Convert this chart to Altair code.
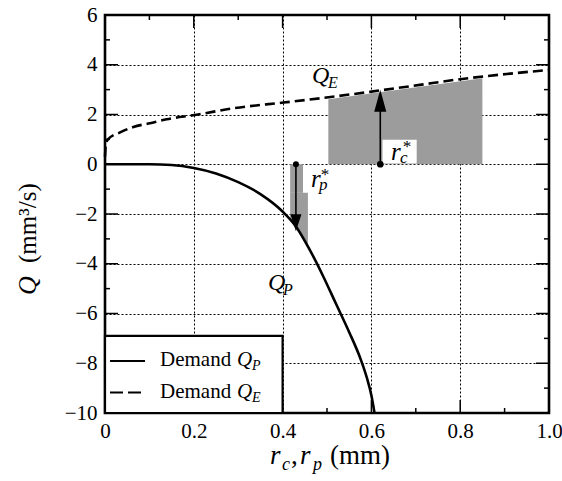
import altair as alt
import pandas as pd

# ---- data ----
qe_x = [0.0, 0.002, 0.007, 0.034, 0.064, 0.101, 0.139, 0.203, 0.289, 0.402, 0.484, 0.6, 0.709, 0.8, 0.905, 1.0]
qe_y = [0.3, 0.8, 1.01, 1.28, 1.5, 1.65, 1.81, 1.98, 2.25, 2.48, 2.65, 2.92, 3.19, 3.42, 3.63, 3.79]

qp_x = [0.0, 0.1, 0.15, 0.2, 0.25, 0.3, 0.35, 0.4, 0.43, 0.46, 0.49, 0.52, 0.55, 0.575, 0.59, 0.6, 0.607]
qp_y = [0.0, 0.0, -0.03, -0.15, -0.37, -0.72, -1.2, -1.9, -2.5, -3.4, -4.45, -5.6, -6.75, -7.8, -8.6, -9.3, -10.0]

rc_shade_x = [0.503, 0.85]
rc_shade_top = [2.61, 3.46]
rc_gap_x = [0.625, 0.702]
rc_gap_top = 0.98

rp_upper_x = [0.417, 0.446]
rp_upper_y = [0.0, -1.15]
rp_lower_x = [0.417, 0.432, 0.446, 0.457]
rp_lower_bottom = [-2.2, -2.55, -3.0, -3.35]

rc_arrow = {"x": 0.62, "tip": 2.98, "head": 2.55}
rp_arrow = {"x": 0.43, "tip": -2.7, "head": -2.35}

qe_label_xy = (0.466, 3.27)
qp_label_xy = (0.367, -5.04)
rc_label_xy = (0.644, 0.18)
rp_label_xy = (0.464, -0.91)

x_major = [0.2, 0.4, 0.6, 0.8]
x_minor = [0.1, 0.3, 0.5, 0.7, 0.9]
y_major = [-8, -6, -4, -2, 0, 2, 4]
y_minor = [-9, -7, -5, -3, -1, 1, 3, 5]
x_ticks = [0, 0.2, 0.4, 0.6, 0.8, 1.0]
y_ticks = [-10, -8, -6, -4, -2, 0, 2, 4, 6]

legend_labels = ["Demand", "Demand"]
legend_subs = ["P", "E"]

W, H = 444, 398
FONT = "Liberation Serif, Times New Roman, serif"
GRAY = "#9c9c9c"

xs = alt.Scale(domain=[0, 1], nice=False, zero=False)
ys = alt.Scale(domain=[-10, 6], nice=False, zero=False)

xaxis = alt.Axis(values=x_ticks, grid=True, gridDash=[2, 2], gridColor="black", gridWidth=1,
                 gridOpacity=1, ticks=False, tickSize=0, domain=False, labelFont=FONT,
                 labelFontSize=21, labelColor="black", labelPadding=7, labelFlush=False,
                 labelOverlap=False, labelBound=False, title=None,
                 labelExpr="datum.value == 0 ? '0' : format(datum.value, '.1f')")
yaxis = alt.Axis(values=y_ticks, grid=True, gridDash=[2, 2], gridColor="black", gridWidth=1,
                 gridOpacity=1, ticks=False, tickSize=0, domain=False, labelFont=FONT,
                 labelFontSize=21, labelColor="black", labelPadding=8, labelFlush=False,
                 labelOverlap=False, format="d", title=None)

df_qe = pd.DataFrame({"x": qe_x, "y": qe_y})
df_qp = pd.DataFrame({"x": qp_x, "y": qp_y})

base_x = alt.X("x:Q", scale=xs, axis=xaxis)
base_y = alt.Y("y:Q", scale=ys, axis=yaxis)

# shaded regions
rc_shade = alt.Chart(pd.DataFrame({"x": rc_shade_x, "y": rc_shade_top, "y2": [0, 0]})).mark_area(
    color=GRAY, opacity=1).encode(x=base_x, y=base_y, y2="y2:Q")
rc_gap = alt.Chart(pd.DataFrame({"x": [rc_gap_x[0]], "x2": [rc_gap_x[1]], "y": [rc_gap_top], "y2": [0.03]})).mark_rect(
    color="white").encode(x=alt.X("x:Q", scale=xs), x2="x2:Q", y=alt.Y("y:Q", scale=ys), y2="y2:Q")
rp_up = alt.Chart(pd.DataFrame({"x": [rp_upper_x[0]], "x2": [rp_upper_x[1]], "y": [rp_upper_y[0]], "y2": [rp_upper_y[1]]})).mark_rect(
    color=GRAY).encode(x=alt.X("x:Q", scale=xs), x2="x2:Q", y=alt.Y("y:Q", scale=ys), y2="y2:Q")
rp_low = alt.Chart(pd.DataFrame({"x": rp_lower_x, "y": rp_lower_bottom,
                                 "y2": [rp_upper_y[1]] * len(rp_lower_x)})).mark_area(
    color=GRAY, opacity=1).encode(x=alt.X("x:Q", scale=xs), y=alt.Y("y:Q", scale=ys), y2="y2:Q")

# curves
line_qe = alt.Chart(df_qe).mark_line(color="black", strokeWidth=2.6, strokeDash=[10, 5],
                                     interpolate="monotone").encode(x=base_x, y=base_y)
line_qp = alt.Chart(df_qp).mark_line(color="black", strokeWidth=2.6,
                                     interpolate="monotone").encode(x=base_x, y=base_y)


def arrow(a, up):
    d = pd.DataFrame({"x": [a["x"]], "y0": [0.0], "tip": [a["tip"]], "head": [a["head"]]})
    shaft = alt.Chart(d).mark_rule(color="black", strokeWidth=1.6).encode(
        x=alt.X("x:Q", scale=xs), y=alt.Y("y0:Q", scale=ys), y2="head:Q")
    path = "M0,-1L0.55,1L-0.55,1Z" if up else "M0,1L0.65,-1L-0.65,-1Z"
    size = 484 if up else 289
    head = alt.Chart(d).mark_point(shape=path, filled=True, color="black", opacity=1, size=size,
                                   strokeWidth=0).encode(
        x=alt.X("x:Q", scale=xs), y=alt.Y("head:Q", scale=ys))
    dot = alt.Chart(d).mark_point(shape="circle", filled=True, color="black", opacity=1,
                                  size=45 if up else 36).encode(
        x=alt.X("x:Q", scale=xs), y=alt.Y("y0:Q", scale=ys))
    return [shaft, head, dot]


def dtext(s, xy, size, italic=True, dx=0, dy=0):
    return alt.Chart(alt.Data(values=[{"a": 1}])).mark_text(
        text=s, font=FONT, fontSize=size, fontStyle="italic" if italic else "normal",
        align="left", baseline="alphabetic", dx=dx, dy=dy, color="black").encode(
        x=alt.datum(xy[0], scale=xs), y=alt.datum(xy[1], scale=ys))


def ptext(s, px, py, size, italic=False, angle=0):
    return alt.Chart(alt.Data(values=[{"a": 1}])).mark_text(
        text=s, font=FONT, fontSize=size, fontStyle="italic" if italic else "normal",
        align="left", baseline="alphabetic", angle=angle, color="black").encode(
        x=alt.value(px), y=alt.value(py))


labels = [
    dtext("Q", qe_label_xy, 24), dtext("E", qe_label_xy, 16, dx=16, dy=5),
    dtext("Q", qp_label_xy, 24), dtext("P", qp_label_xy, 16, dx=15, dy=5),
    dtext("r", rc_label_xy, 25), dtext("c", rc_label_xy, 17, dx=9, dy=3), dtext("*", rc_label_xy, 17, dx=11, dy=-8),
    dtext("r", rp_label_xy, 25), dtext("p", rp_label_xy, 17, dx=8, dy=3), dtext("*", rp_label_xy, 17, dx=9, dy=-7),
]


# inward ticks on all four sides
def ticks(vals, length, axis):
    d = pd.DataFrame({"v": vals})
    out = []
    if axis == "x":
        enc = alt.X("v:Q", scale=xs)
        out.append(alt.Chart(d).mark_rule(color="black", strokeWidth=1.5).encode(
            x=enc, y=alt.value(H), y2=alt.value(H - length)))
        out.append(alt.Chart(d).mark_rule(color="black", strokeWidth=1.5).encode(
            x=enc, y=alt.value(0), y2=alt.value(length)))
    else:
        enc = alt.Y("v:Q", scale=ys)
        out.append(alt.Chart(d).mark_rule(color="black", strokeWidth=1.5).encode(
            y=enc, x=alt.value(0), x2=alt.value(length)))
        out.append(alt.Chart(d).mark_rule(color="black", strokeWidth=1.5).encode(
            y=enc, x=alt.value(W), x2=alt.value(W - length)))
    return out


tick_layers = ticks(x_major, 13, "x") + ticks(x_minor, 5, "x") + ticks(y_major, 13, "y") + ticks(y_minor, 5, "y")

# legend
legend_box = alt.Chart(alt.Data(values=[{"a": 1}])).mark_rect(
    fill="white", stroke="black", strokeWidth=2.2).encode(
    x=alt.datum(0, scale=xs), x2=alt.datum(0.4), y=alt.datum(-10, scale=ys), y2=alt.datum(-6.9))
leg_solid = alt.Chart(alt.Data(values=[{"a": 1}])).mark_rule(color="black", strokeWidth=2.2).encode(
    x=alt.value(5), x2=alt.value(40), y=alt.value(346))
leg_dash = alt.Chart(alt.Data(values=[{"a": 1}])).mark_rule(color="black", strokeWidth=2.2,
                                                            strokeDash=[13, 5]).encode(
    x=alt.value(5), x2=alt.value(40), y=alt.value(377.5))
legend_text = []
for i, (lab, sub) in enumerate(zip(legend_labels, legend_subs)):
    by = 351 + i * 32
    legend_text += [ptext(lab, 55, by, 21), ptext("Q", 132, by, 21, italic=True),
                    ptext(sub, 147, by + 4, 14, italic=True)]

# axis titles
titles = [
    ptext("r", 165, 449, 27, italic=True), ptext("c", 177, 455, 18, italic=True),
    ptext(",", 186, 449, 27), ptext("r", 195, 449, 27, italic=True),
    ptext("p", 208, 455, 18, italic=True), ptext("(mm)", 225, 449, 27),
    ptext("Q", -69, 280, 26, italic=True, angle=270),
    ptext("(mm³/s)", -69, 248, 25, angle=270),
]

layers = ([rc_shade, rc_gap, rp_up, rp_low, line_qe, line_qp]
          + arrow(rc_arrow, True) + arrow(rp_arrow, False)
          + labels + tick_layers + [legend_box, leg_solid, leg_dash] + legend_text + titles)

chart = alt.layer(*layers).properties(
    width=W, height=H,
    autosize=alt.AutoSizeParams(type="none"),
    padding={"left": 105, "top": 15, "right": 13, "bottom": 68},
    background="white",
).configure_view(stroke="black", strokeWidth=2.6).configure_axis(
    labelFont=FONT, labelColor="black"
).configure_text(font=FONT)

chart.save("out.html", embed_options={"renderer": "svg", "actions": False})
